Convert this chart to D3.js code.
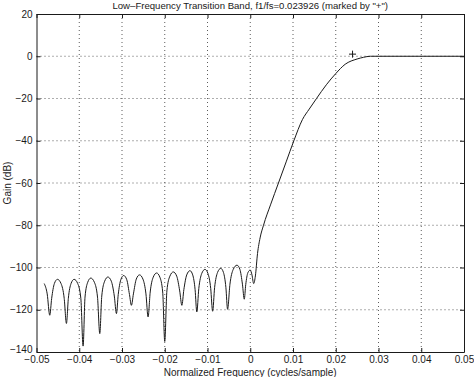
<!DOCTYPE html>
<html>
<head>
<meta charset="utf-8">
<script src="https://cdn.jsdelivr.net/npm/d3@7"></script>
<style>
  html, body { margin: 0; padding: 0; background: #fff; }
  svg { display: block; font-family: "Liberation Sans", Arial, Helvetica, sans-serif; }
</style>
</head>
<body>
<svg id="chart" width="474" height="377"></svg>
<script>
// Low-frequency transition band of a filter response (gain in dB vs normalized frequency).

const TITLE = 'Low\u2013Frequency Transition Band, f1/fs=0.023926 (marked by "+")';
const X_LABEL = "Normalized Frequency (cycles/sample)";
const Y_LABEL = "Gain (dB)";

const X_DOMAIN = [-0.05, 0.05];
const Y_DOMAIN = [-140, 20];
const X_TICKS = [-0.05, -0.04, -0.03, -0.02, -0.01, 0, 0.01, 0.02, 0.03, 0.04, 0.05];
const Y_TICKS = [20, 0, -20, -40, -60, -80, -100, -120, -140];

// Curve samples: frequency (cycles/sample) and gain (dB)
const FREQ = [
  -0.0482, -0.0475, -0.0469,
  -0.04645, -0.04582, -0.0451, -0.04426, -0.04352, -0.0430,
  -0.04255, -0.04192, -0.0412, -0.04036, -0.03963, -0.0391,
  -0.03865, -0.03802, -0.0373, -0.03646, -0.03573, -0.0352,
  -0.03473, -0.03406, -0.0333, -0.0325, -0.0318, -0.0313,
  -0.03088, -0.03028, -0.0296, -0.02888, -0.02825, -0.0278,
  -0.02733, -0.02666, -0.0259, -0.0251, -0.0244, -0.0239,
  -0.0234, -0.0227, -0.0219, -0.02114, -0.02048, -0.0200,
  -0.0195, -0.0188, -0.0180, -0.0172, -0.0165, -0.0160,
  -0.01553, -0.01486, -0.0141, -0.01346, -0.0129, -0.0125,
  -0.01203, -0.01136, -0.0106, -0.00988, -0.00925, -0.0088,
  -0.00833, -0.00766, -0.0069, -0.00626, -0.0057, -0.0053,
  -0.00475, -0.00398, -0.0031, -0.00242, -0.00183, -0.0014,
  -0.00105, -0.00056, 0.0000, 0.0004, 0.0008,
  0.0012, 0.0017, 0.0023, 0.0031, 0.0048, 0.0066, 0.0084, 0.0102, 0.0122,
  0.0138, 0.0155, 0.0178, 0.0200, 0.0222, 0.0250, 0.0265, 0.0281, 0.0500
];
const GAIN = [
  -107.6, -112.5, -122.6,
  -114.6, -107.6, -105.6, -107.6, -114.6, -126.5,
  -114.6, -107.6, -105.6, -107.6, -114.6, -137.2,
  -114.0, -107.0, -105.0, -107.0, -114.0, -131.3,
  -113.5, -106.5, -104.5, -106.5, -113.5, -121.8,
  -112.8, -105.8, -103.8, -105.8, -112.8, -117.9,
  -112.5, -105.5, -103.5, -105.5, -112.5, -123.4,
  -111.6, -104.6, -102.6, -104.6, -111.6, -135.0,
  -111.1, -104.1, -102.1, -104.1, -111.1, -117.9,
  -110.5, -103.5, -101.5, -103.5, -110.5, -121.0,
  -109.9, -102.9, -100.9, -102.9, -109.9, -120.7,
  -109.4, -102.4, -100.4, -102.4, -109.4, -119.8,
  -107.9, -100.9, -98.9, -100.9, -107.9, -115.0,
  -108.0, -102.5, -101.2, -103.5, -107.6,
  -104.0, -93.4, -86.0, -80.0, -70.0, -60.0, -50.0, -40.0, -30.0,
  -25.0, -20.0, -13.5, -8.2, -3.8, -1.3, -0.5, 0.0, 0.0
];

// Position of the "+" marker (f1/fs)
const MARK_F = 0.023926;
const MARK_DB = 1;

function render() {
  const svg = d3.select("#chart");
  const margin = { top: 14, right: 10, bottom: 25, left: 36.5 };
  const totalW = 474, totalH = 377;
  const W = totalW - margin.left - margin.right;
  const H = totalH - margin.top - margin.bottom;
  const g = svg.append("g").attr("transform", `translate(${margin.left},${margin.top})`);

  const x = d3.scaleLinear().domain(X_DOMAIN).range([0, W]);
  const y = d3.scaleLinear().domain(Y_DOMAIN).range([H, 0]);
  const fmt = (v) => d3.format("")(v).replace("-", "\u2212");
  const ink = "#1a1a1a";

  // dotted grid at interior ticks
  g.append("g").selectAll("line").data(X_TICKS.slice(1, -1)).join("line")
    .attr("x1", (d) => x(d)).attr("x2", (d) => x(d)).attr("y1", 0).attr("y2", H)
    .attr("stroke", "#333").attr("stroke-width", 0.8).attr("stroke-dasharray", "1,3");
  g.append("g").selectAll("line").data(Y_TICKS.slice(1, -1)).join("line")
    .attr("y1", (d) => y(d)).attr("y2", (d) => y(d)).attr("x1", 0).attr("x2", W)
    .attr("stroke", "#333").attr("stroke-width", 0.8).attr("stroke-dasharray", "1,3");

  // axes with inward ticks on all four sides (box)
  const styleAxis = (sel) => {
    sel.select(".domain").attr("stroke", ink);
    sel.selectAll(".tick line").attr("stroke", ink);
    sel.selectAll("text").attr("fill", ink).style("font-size", "10px");
  };
  g.append("g").attr("transform", `translate(0,${H})`)
    .call(d3.axisBottom(x).tickValues(X_TICKS).tickSize(-4).tickSizeOuter(0).tickPadding(4).tickFormat(fmt))
    .call(styleAxis);
  g.append("g")
    .call(d3.axisTop(x).tickValues(X_TICKS).tickSize(-4).tickSizeOuter(0).tickFormat(""))
    .call(styleAxis);
  g.append("g")
    .call(d3.axisLeft(y).tickValues(Y_TICKS).tickSize(-4).tickSizeOuter(0).tickPadding(4).tickFormat(fmt))
    .call(styleAxis)
    // the bottom label sits a little higher, as in the original
    .selectAll(".tick text").filter((d) => d === Y_DOMAIN[0]).attr("dy", "0.02em");
  g.append("g").attr("transform", `translate(${W},0)`)
    .call(d3.axisRight(y).tickValues(Y_TICKS).tickSize(-4).tickSizeOuter(0).tickFormat(""))
    .call(styleAxis);

  // the response curve
  const pts = FREQ.map((f, i) => [f, GAIN[i]]);
  const line = d3.line().x((d) => x(d[0])).y((d) => y(d[1])).curve(d3.curveMonotoneX);
  g.append("path").datum(pts)
    .attr("fill", "none").attr("stroke", ink).attr("stroke-width", 1)
    .attr("stroke-linejoin", "round").attr("d", line);

  // "+" marker
  g.append("path")
    .attr("d", "M-3.5,0H3.5M0,-3.5V3.5")
    .attr("transform", `translate(${x(MARK_F)},${y(MARK_DB)})`)
    .attr("stroke", ink).attr("stroke-width", 1).attr("fill", "none");

  // labels
  svg.append("text").attr("x", margin.left + W / 2).attr("y", 9)
    .attr("text-anchor", "middle").style("font-size", "9.6px").attr("fill", ink)
    .text(TITLE);
  svg.append("text").attr("x", margin.left + W / 2).attr("y", 376)
    .attr("text-anchor", "middle").style("font-size", "10px").attr("fill", ink)
    .text(X_LABEL);
  svg.append("text").attr("transform", `translate(11,${margin.top + H / 2}) rotate(-90)`)
    .attr("text-anchor", "middle").style("font-size", "10px").attr("fill", ink)
    .text(Y_LABEL);
}

render();
</script>
</body>
</html>
